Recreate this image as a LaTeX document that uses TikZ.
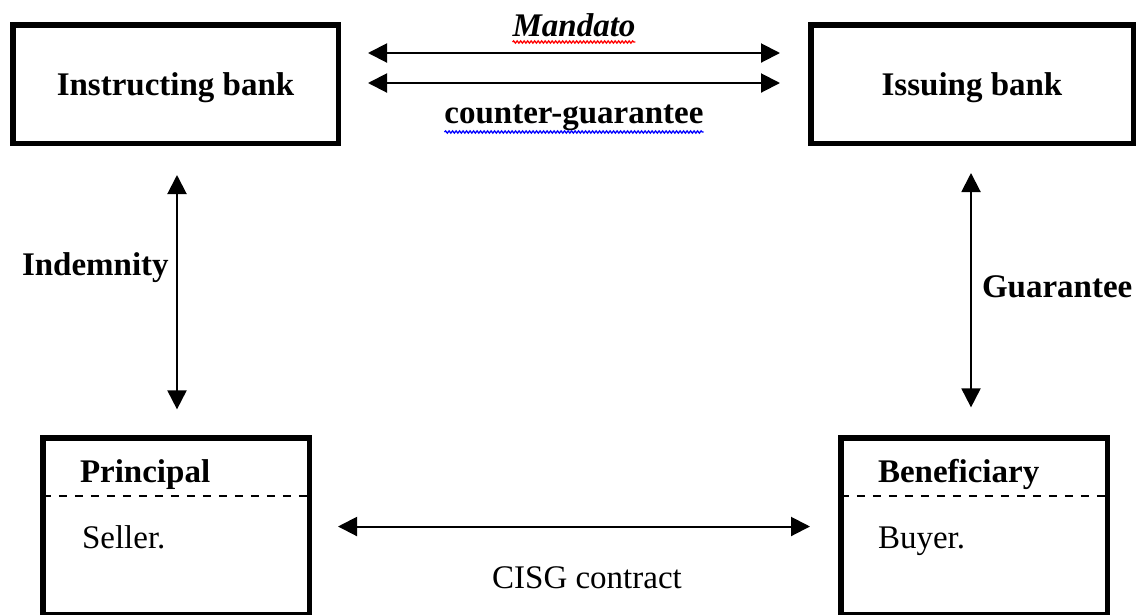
\documentclass[tikz,border=0pt]{standalone}
\usepackage{fontspec}
\setmainfont{Liberation Serif}
\usetikzlibrary{arrows.meta,decorations.pathmorphing}
\begin{document}
\begin{tikzpicture}[x=1pt,y=-1pt,
  bankbox/.style={draw, line width=5.5pt, rectangle, inner sep=0pt, outer sep=0pt,
    minimum height=118.5pt, text depth=0pt, font=\fontsize{33}{36}\selectfont\bfseries},
  partybox/.style={draw, line width=5.5pt, rectangle, inner sep=0pt, outer sep=0pt,
    minimum width=266.5pt, minimum height=176.75pt},
  lbl/.style={inner sep=0pt, outer sep=0pt, font=\fontsize{33}{36}\selectfont},
  dbl/.style={line width=2pt, {Triangle[length=19pt,width=19pt]}-{Triangle[length=19pt,width=19pt]}},
  dashline/.style={line width=2pt, dash pattern=on 8.5pt off 7.5pt},
  wavy/.style={line width=1.3pt, decorate, decoration={snake, amplitude=1.1pt, segment length=3.5pt}}
]
\useasboundingbox (0,0) rectangle (1137,614);

% bank boxes
\node[bankbox, minimum width=325.5pt] (instr) at (175.5,84) {Instructing bank};
\node[bankbox, minimum width=322.5pt] (issuing) at (972,84) {Issuing bank};

% party boxes
\node[partybox] (principal) at (176,526.5) {};
\node[partybox] (beneficiary) at (974,526.5) {};
\draw[dashline] ([yshift=-58.25pt]principal.north west) -- ([yshift=-58.25pt]principal.north east);
\draw[dashline] ([yshift=-58.25pt]beneficiary.north west) -- ([yshift=-58.25pt]beneficiary.north east);

\node[lbl, anchor=base west, font=\fontsize{33}{36}\selectfont\bfseries] (princ) at (80,482) {Principal};
\node[lbl, anchor=base west] (seller) at (82,548) {Seller.};
\node[lbl, anchor=base west, font=\fontsize{33}{36}\selectfont\bfseries] (benef) at (878,482) {Beneficiary};
\node[lbl, anchor=base west] (buyer) at (878,548) {Buyer.};

% top arrows
\draw[dbl, shorten <=29.75pt, shorten >=30.75pt] ([yshift=31pt]instr.east) -- ([yshift=31pt]issuing.west);
\draw[dbl, shorten <=29.75pt, shorten >=30.75pt] ([yshift=1pt]instr.east) -- ([yshift=1pt]issuing.west);
\node[lbl, anchor=base, font=\fontsize{33}{36}\selectfont\bfseries\itshape] (mandato) at (574,36) {Mandato};
\node[lbl, anchor=base, font=\fontsize{33}{36}\selectfont\bfseries] (counter) at (574,123) {counter-guarantee};
\draw[wavy, red] ([yshift=-6pt]mandato.base west) -- ([yshift=-6pt]mandato.base east);
\draw[wavy, blue] ([yshift=-9pt]counter.base west) -- ([yshift=-9pt]counter.base east);

% vertical arrows
\draw[dbl, shorten <=31.75pt, shorten >=28.75pt] ([xshift=1.5pt]instr.south) -- ([xshift=1pt]principal.north);
\node[lbl, anchor=base west, font=\fontsize{33}{36}\selectfont\bfseries] (indem) at (22,275) {Indemnity};
\draw[dbl, shorten <=29.75pt, shorten >=30.75pt] ([xshift=-1pt]issuing.south) -- ([xshift=-3pt]beneficiary.north);
\node[lbl, anchor=base west, font=\fontsize{33}{36}\selectfont\bfseries] (guar) at (982,297) {Guarantee};

% bottom arrow
\draw[dbl, shorten <=28.75pt, shorten >=30.75pt] (principal.east) -- (beneficiary.west);
\node[lbl, anchor=base] (cisg) at (587,588) {CISG contract};
\end{tikzpicture}
\end{document}
